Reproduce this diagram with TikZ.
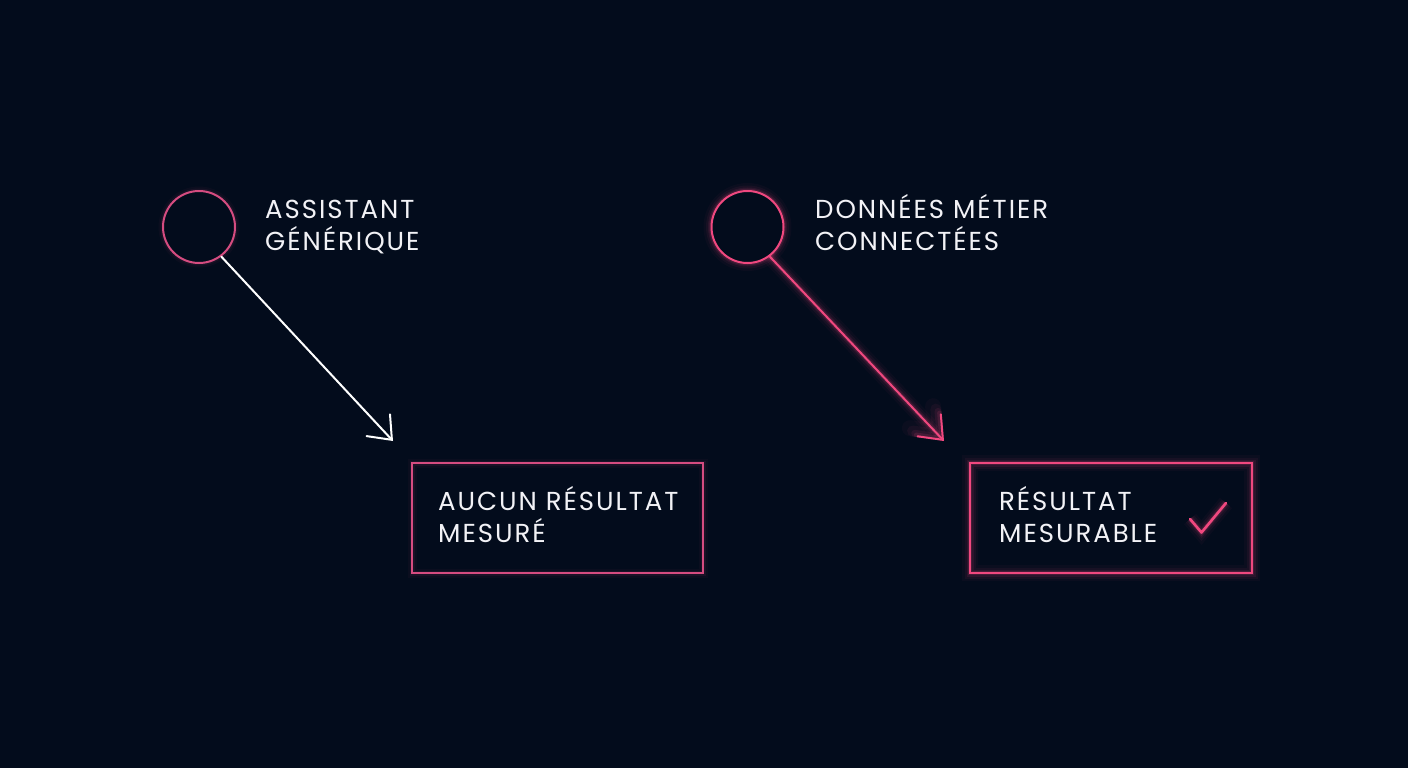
\documentclass[tikz,border=0pt]{standalone}
\usepackage{fontspec}
\setmainfont{Poppins}[LetterSpace=7.5]
\usetikzlibrary{arrows.meta}
\definecolor{bg}{HTML}{030C1C}
\definecolor{pinkA}{HTML}{D54C80}
\definecolor{pinkB}{HTML}{F0487F}
\definecolor{txt}{HTML}{F2F2F6}
\tikzset{
  x=1pt, y=-1pt,
  glow/.style={
    preaction={draw=#1, line width=16pt, opacity=0.035},
    preaction={draw=#1, line width=11pt, opacity=0.06},
    preaction={draw=#1, line width=7pt, opacity=0.09},
    preaction={draw=#1, line width=4.5pt, opacity=0.14}},
  softglow/.style={
    preaction={draw=#1, line width=9pt, opacity=0.04},
    preaction={draw=#1, line width=5pt, opacity=0.08}},
  ring/.style={circle, minimum size=72pt, inner sep=0pt, line width=2pt, fill=bg},
  rbox/.style={rectangle, inner sep=0pt, line width=2pt, minimum height=110pt},
  label/.style={anchor=base west, inner sep=0pt, text=txt, align=left,
    font=\fontsize{26}{32.5}\selectfont},
  tip/.style={-{Straight Barb[length=20pt 0, width=32pt 0, line cap=round]}, line width=2pt},
}
\begin{document}
\begin{tikzpicture}
\fill[bg] (0,0) rectangle (1408,768);
\useasboundingbox (0,0) rectangle (1408,768);

% left column
\node[ring, draw=pinkA, softglow=pinkA] (c1) at (199,227) {};
\node[label] (t1) at (265,250.5) {ASSISTANT\\GÉNÉRIQUE};
\node[rbox, minimum width=291pt, draw=pinkA, softglow=pinkA] (b1) at (557.5,518) {};
\node[label] (t2) at (438,542.5) {AUCUN RÉSULTAT\\MESURÉ};
\coordinate (e1) at (393,441);
\draw[tip, draw=white, line cap=round] (c1.-53) -- (e1);

% right column
\node[ring, draw=pinkB, glow=pinkB] (c2) at (747.5,227) {};
\node[label] (t3) at (815,250.5) {DONNÉES MÉTIER\\CONNECTÉES};
\node[rbox, minimum width=282pt, draw=pinkB, glow=pinkB] (b2) at (1111,518) {};
\node[label] (t4) at (999,542.5) {RÉSULTAT\\MESURABLE};
\coordinate (e2) at (944,441);
\draw[tip, draw=pinkB, glow=pinkB, line cap=round] (c2.-53) -- (e2);
\draw[pinkB, line width=2.6pt, line cap=round, line join=round, glow=pinkB]
  (1190,519) -- (1201.5,532.5) -- (1226,503);
\end{tikzpicture}
\end{document}
